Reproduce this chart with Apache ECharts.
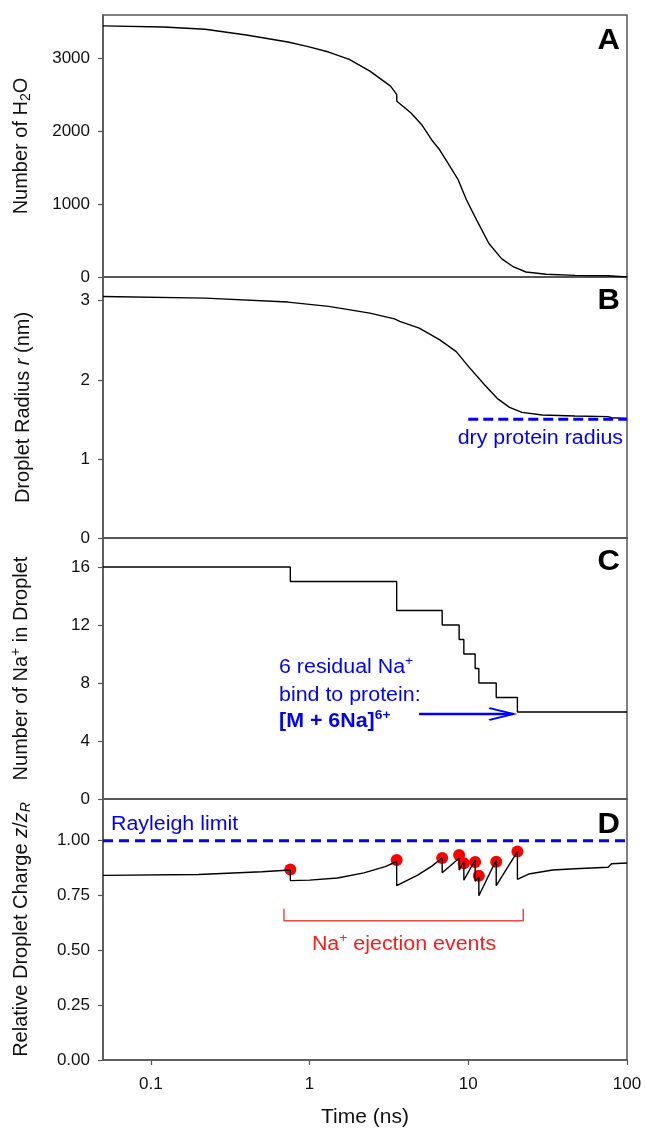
<!DOCTYPE html>
<html>
<head>
<meta charset="utf-8">
<script src="https://cdn.jsdelivr.net/npm/echarts@6/dist/echarts.min.js"></script>
<style>
html,body{margin:0;padding:0;background:#fff;}
#chart{width:645px;height:1130px;}
</style>
</head>
<body>
<div id="chart"></div>
<script>
// ---------- data ----------
const tA = [0.05, 0.12, 0.22, 0.4, 0.73, 0.98, 1.32, 1.78, 2.4, 3.24, 3.54, 3.55, 4.36, 5.09, 5.87, 6.6, 7.45, 8.4, 8.65, 9.75, 11.3, 13.5, 16.2, 19.3, 23.1, 31, 47, 76, 77.5, 100];
const nH2O = [3450, 3436, 3404, 3326, 3229, 3165, 3091, 2990, 2829, 2622, 2510, 2415, 2254, 2093, 1886, 1748, 1564, 1380, 1334, 1058, 782, 460, 253, 138, 69, 37, 23, 18, 5, 0];

const tB = [0.05, 0.22, 0.73, 1.32, 2.4, 3.43, 3.7, 4.91, 6.62, 8.4, 10.05, 12.7, 15.2, 18.2, 21.8, 29.3, 47, 76, 80, 100];
const radius = [3.054, 3.033, 2.983, 2.928, 2.843, 2.771, 2.738, 2.653, 2.505, 2.357, 2.167, 1.935, 1.766, 1.652, 1.589, 1.555, 1.542, 1.534, 1.521, 1.512];

const naTimes = [0.05, 0.757, 3.54, 6.85, 8.76, 9.38, 11.05, 11.66, 15.0, 20.4, 100];
const naCount = [16, 15, 13, 12, 11, 10, 9, 8, 7, 6, 6];

const tD = [0.05, 0.2, 0.5, 0.757, 0.757, 1.0, 1.5, 2.2, 3.0, 3.54, 3.54, 4.8, 5.9, 6.85, 6.85, 8.76, 8.76, 9.38, 9.38, 11.05, 11.05, 11.66, 11.66, 15.0, 15.0, 20.4, 20.4, 24, 34, 47, 76, 80, 100];
const charge = [0.842, 0.846, 0.858, 0.866, 0.818, 0.82, 0.83, 0.853, 0.882, 0.905, 0.795, 0.843, 0.884, 0.922, 0.854, 0.92, 0.866, 0.905, 0.82, 0.912, 0.815, 0.835, 0.749, 0.912, 0.795, 0.95, 0.824, 0.848, 0.866, 0.872, 0.879, 0.895, 0.898];

const ejectT = [0.757, 3.54, 6.85, 8.76, 9.38, 11.05, 11.66, 15.0, 20.4];
const ejectZ = [0.869, 0.912, 0.921, 0.935, 0.897, 0.903, 0.84, 0.904, 0.951];

const dryRadiusX = [10, 100];
const dryRadius = 1.5;
const rayleighX = [0.05, 100];
const rayleigh = 1.0;
const arrowX = [4.9, 19.2];
const arrowY = 5.86;
const bracketX = [0.69, 0.69, 22.2, 22.2];
const bracketY = [0.69, 0.635, 0.635, 0.69];

const xTicks = [0.1, 1, 10, 100];
const yTicksA = [0, 1000, 2000, 3000];
const yTicksB = [0, 1, 2, 3];
const yTicksC = [0, 4, 8, 12, 16];
const yTicksD = [0, 0.25, 0.5, 0.75, 1.0];

// ---------- chart ----------
const FONT = '"Liberation Sans", Arial, Helvetica, sans-serif';
const AX = '#555';
const BLUE = '#0000ff';
const RED = '#ff1a1a';
const SX = 1.07;
const zip = (xs, ys) => xs.map((x, i) => [x, ys[i]]);

const richName = {
  sub: {fontSize: 14, fontFamily: FONT, color: '#111', padding: [9, 0, 0, 0]},
  sup: {fontSize: 14, fontFamily: FONT, color: '#111', padding: [0, 0, 10, 0]},
  i: {fontSize: 20, fontFamily: FONT, color: '#111', fontStyle: 'italic'},
  isub: {fontSize: 14, fontFamily: FONT, color: '#111', fontStyle: 'italic', padding: [9, 0, 0, 0]}
};

const grids = [
  {top: 15, height: 262},
  {top: 277, height: 261},
  {top: 538, height: 261},
  {top: 799, height: 261}
].map(g => Object.assign({left: 103, right: 18, show: true, borderColor: AX, borderWidth: 1.5, backgroundColor: 'transparent'}, g));

function xAxis(i) {
  const last = i === 3;
  return {
    type: 'log', logBase: 10, gridIndex: i, min: 0.05, max: 100,
    axisLine: {show: true, lineStyle: {color: AX, width: 1.5}},
    splitLine: {show: false},
    minorTick: {show: false},
    axisTick: {show: last, length: 5, lineStyle: {color: AX, width: 1.2}, customValues: xTicks},
    axisLabel: {show: last, customValues: xTicks, margin: 16, fontSize: 17, fontFamily: FONT, color: '#111',
      formatter: v => String(+(+v).toPrecision(6))},
    name: last ? 'Time (ns)' : '',
    nameLocation: 'middle', nameGap: 47,
    nameTextStyle: {fontSize: 21, fontFamily: FONT, color: '#111'}
  };
}

function yAxis(i, max, ticks, name, fmt) {
  return {
    type: 'value', gridIndex: i, min: 0, max: max,
    axisLine: {show: true, lineStyle: {color: AX, width: 1.5}},
    splitLine: {show: false},
    axisTick: {show: true, length: 5, lineStyle: {color: AX, width: 1.2}, customValues: ticks},
    axisLabel: {customValues: ticks, margin: 13, fontSize: 17, fontFamily: FONT, color: '#111', formatter: fmt || (v => String(v))},
    name: name, nameLocation: 'middle', nameGap: 70, nameRotate: 90,
    nameTextStyle: {fontSize: 20, fontFamily: FONT, color: '#111', rich: richName}
  };
}

const blackLine = {color: '#000', width: 1.4};

function label(x, y, text, opts) {
  return {
    type: 'text', x: x, y: y, scaleX: SX, originX: 0, originY: 0,
    style: Object.assign({text: text, fontSize: 20, fontFamily: FONT, fill: BLUE, align: 'left', verticalAlign: 'middle'}, opts || {})
  };
}
function letter(y, t) {
  return label(620, y, t, {fontSize: 29, fontWeight: 'bold', fill: '#000', align: 'right'});
}

const option = {
  animation: false,
  backgroundColor: '#fff',
  grid: grids,
  xAxis: [0, 1, 2, 3].map(xAxis),
  yAxis: [
    yAxis(0, 3600, yTicksA, 'Number of H{sub|2}O'),
    yAxis(1, 3.3, yTicksB, 'Droplet Radius {i|r} (nm)'),
    yAxis(2, 18, yTicksC, 'Number of Na{sup|+} in Droplet'),
    yAxis(3, 1.19, yTicksD, 'Relative Droplet Charge {i|z}/{i|z}{isub|R}', v => (+v).toFixed(2))
  ],
  series: [
    {type: 'line', xAxisIndex: 0, yAxisIndex: 0, data: zip(tA, nH2O), showSymbol: false, lineStyle: blackLine, itemStyle: {color: '#000'}},
    {type: 'line', xAxisIndex: 1, yAxisIndex: 1, data: zip(tB, radius), showSymbol: false, lineStyle: blackLine, itemStyle: {color: '#000'}},
    {type: 'line', xAxisIndex: 1, yAxisIndex: 1, data: dryRadiusX.map(x => [x, dryRadius]), showSymbol: false,
      lineStyle: {color: BLUE, width: 3, type: [10, 5]}, itemStyle: {color: BLUE}},
    {type: 'line', xAxisIndex: 2, yAxisIndex: 2, step: 'end', data: zip(naTimes, naCount), showSymbol: false, lineStyle: blackLine, itemStyle: {color: '#000'}},
    {type: 'line', xAxisIndex: 2, yAxisIndex: 2,
      data: [{value: [arrowX[0], arrowY], symbol: 'none'},
             {value: [arrowX[1], arrowY], symbol: 'path://M0,0L10,5L0,10', symbolSize: [24, 12], symbolOffset: [-12, 0]}],
      showSymbol: true, lineStyle: {color: BLUE, width: 2.4},
      itemStyle: {color: 'rgba(0,0,0,0)', borderColor: BLUE, borderWidth: 2.6}},
    {type: 'line', xAxisIndex: 3, yAxisIndex: 3, data: zip(tD, charge), showSymbol: false, lineStyle: blackLine, itemStyle: {color: '#000'}},
    {type: 'line', xAxisIndex: 3, yAxisIndex: 3, data: rayleighX.map(x => [x, rayleigh]), showSymbol: false,
      lineStyle: {color: BLUE, width: 3, type: [10, 6]}, itemStyle: {color: BLUE}},
    {type: 'line', xAxisIndex: 3, yAxisIndex: 3, data: zip(bracketX, bracketY), showSymbol: false,
      lineStyle: {color: '#f04848', width: 1.5}, itemStyle: {color: '#f04848'}},
    {type: 'scatter', xAxisIndex: 3, yAxisIndex: 3, data: zip(ejectT, ejectZ), symbolSize: 12,
      itemStyle: {color: '#ff0000', opacity: 1}}
  ],
  graphic: [
    letter(41, 'A'), letter(301, 'B'), letter(562, 'C'), letter(825, 'D'),
    label(623, 438, 'dry protein radius', {align: 'right'}),
    label(279, 667, '6 residual Na{sup|+}', {rich: {sup: {fontSize: 13, fontFamily: FONT, fill: BLUE, color: BLUE, padding: [0, 0, 12, 0]}}}),
    label(279, 695, 'bind to protein:'),
    label(279, 721, '[M + 6Na]{sup|6+}', {fontWeight: 'bold', rich: {sup: {fontSize: 13, fontWeight: 'bold', fontFamily: FONT, fill: BLUE, color: BLUE, padding: [0, 0, 12, 0]}}}),
    label(111, 824, 'Rayleigh limit'),
    label(404, 944, 'Na{sup|+} ejection events', {fill: RED, align: 'center', rich: {sup: {fontSize: 13, fontFamily: FONT, fill: RED, color: RED, padding: [0, 0, 12, 0]}}})
  ]
};

const chart = echarts.init(document.getElementById('chart'), null, {renderer: 'canvas'});
chart.setOption(option);
</script>
</body>
</html>
